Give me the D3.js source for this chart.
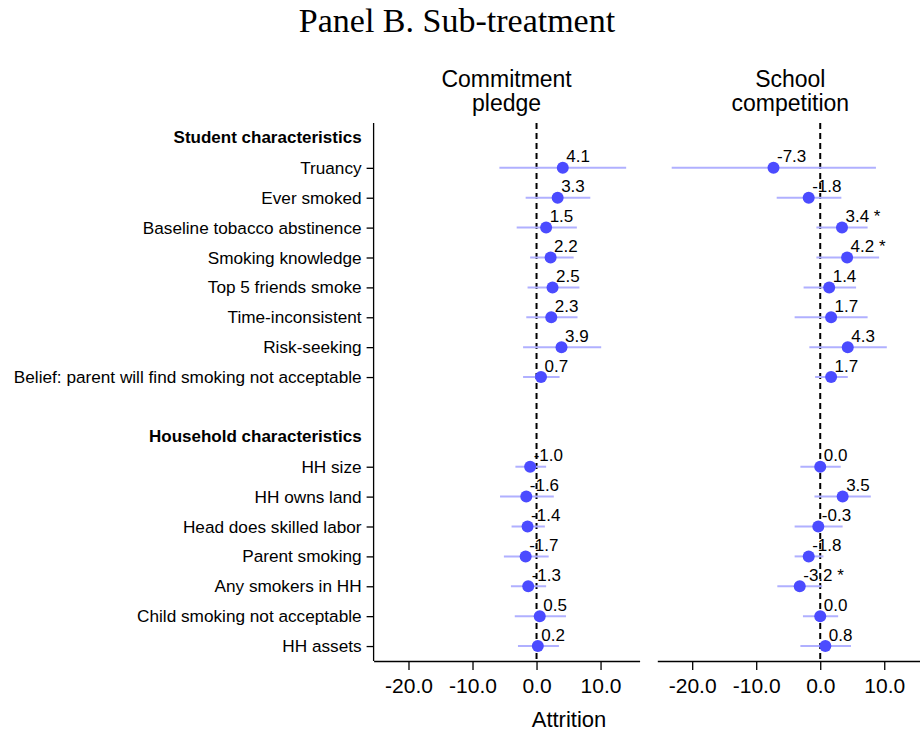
<!DOCTYPE html>
<html>
<head>
<meta charset="utf-8">
<script src="https://cdn.jsdelivr.net/npm/d3@7"></script>
<style>
  body { margin: 0; background: #fff; }
  svg { display: block; font-family: "Liberation Sans", Arial, sans-serif; }
</style>
</head>
<body>
<svg class="chart"></svg>
<script>
// row labels
const studentRows = ["Truancy", "Ever smoked", "Baseline tobacco abstinence", "Smoking knowledge",
  "Top 5 friends smoke", "Time-inconsistent", "Risk-seeking", "Belief: parent will find smoking not acceptable"];
const householdRows = ["HH size", "HH owns land", "Head does skilled labor", "Parent smoking",
  "Any smokers in HH", "Child smoking not acceptable", "HH assets"];
const headers = ["Student characteristics", "Household characteristics"];

// Commitment pledge: estimate, CI low, CI high
const commitEst = [4.1, 3.3, 1.5, 2.2, 2.5, 2.3, 3.9, 0.7, -1.0, -1.6, -1.4, -1.7, -1.3, 0.5, 0.2];
const commitLo  = [-5.8, -1.7, -3.1, -1.0, -1.4, -1.6, -2.1, -2.1, -3.3, -5.7, -3.9, -5.1, -4.0, -3.4, -2.9];
const commitHi  = [14.0, 8.4, 6.3, 5.8, 6.7, 6.4, 10.1, 3.6, 1.5, 2.7, 1.3, 1.9, 1.5, 4.6, 3.5];
const commitStars = ["", "", "", "", "", "", "", "", "", "", "", "", "", "", ""];

// School competition
const schoolEst = [-7.3, -1.8, 3.4, 4.2, 1.4, 1.7, 4.3, 1.7, 0.0, 3.5, -0.3, -1.8, -3.2, 0.0, 0.8];
const schoolLo  = [-23.2, -6.8, -0.6, -0.6, -2.6, -4.0, -1.7, -0.8, -3.1, -0.9, -4.0, -4.0, -6.7, -2.7, -3.1];
const schoolHi  = [8.7, 3.3, 7.4, 9.2, 5.6, 7.4, 10.4, 4.3, 3.2, 7.9, 3.5, 0.5, 0.3, 2.8, 4.8];
const schoolStars = ["", "", "*", "*", "", "", "", "", "", "", "", "", "*", "", ""];

const xTicks = [-20, -10, 0, 10];
const panelTitles = [["Commitment", "pledge"], ["School", "competition"]];

const width = 920, height = 731;
const svg = d3.select(".chart").attr("width", width).attr("height", height);

const dataRows = studentRows.concat(householdRows);
const slots = [headers[0], ...studentRows, "__blank", headers[1], ...householdRows];

const yTop = 123, yBottom = 661;
const y = d3.scalePoint().domain(slots).range([yTop, yBottom]).padding(0.5);
const panelLefts = [373.6, 657.3];
const panelW = 266;

function panelData(est, lo, hi, stars) {
  return dataRows.map((r, i) => ({row: r, est: est[i], lo: lo[i], hi: hi[i], star: stars[i]}));
}
const panels = [
  panelData(commitEst, commitLo, commitHi, commitStars),
  panelData(schoolEst, schoolLo, schoolHi, schoolStars)
];

// title
svg.append("text")
  .attr("x", 457).attr("y", 32)
  .attr("text-anchor", "middle")
  .style("font-family", "'Liberation Serif', 'Times New Roman', serif")
  .style("font-size", "34px")
  .text("Panel B. Sub-treatment");

panels.forEach((data, p) => {
  const x = d3.scaleLinear().domain([-25.45, 16.1]).range([panelLefts[p], panelLefts[p] + panelW]);
  const g = svg.append("g");

  // panel title
  const t = g.append("text")
    .attr("text-anchor", "middle")
    .style("font-size", "23px");
  panelTitles[p].forEach((line, k) => {
    t.append("tspan").attr("x", panelLefts[p] + panelW / 2).attr("y", 87 + k * 24).text(line);
  });

  // x axis
  g.append("g")
    .attr("transform", `translate(0,${yBottom})`)
    .call(d3.axisBottom(x).tickValues(xTicks).tickFormat(d => d.toFixed(1)).tickSize(9).tickSizeOuter(0).tickPadding(8))
    .call(a => a.selectAll("text").style("font-size", "21px").attr("fill", "#000").style("font-family", "inherit"))
    .call(a => a.selectAll("line, path").attr("stroke", "#000").attr("stroke-width", 1.3));

  // zero line
  g.append("line")
    .attr("x1", x(0)).attr("x2", x(0))
    .attr("y1", yTop).attr("y2", yBottom)
    .attr("stroke", "#000").attr("stroke-width", 2)
    .attr("stroke-dasharray", "6,4");

  // CIs
  g.selectAll(".ci").data(data).join("line")
    .attr("class", "ci")
    .attr("x1", d => x(d.lo)).attr("x2", d => x(d.hi))
    .attr("y1", d => y(d.row)).attr("y2", d => y(d.row))
    .attr("stroke", "#b0b0ff").attr("stroke-width", 2);

  // points
  g.selectAll(".pt").data(data).join("circle")
    .attr("class", "pt")
    .attr("cx", d => x(d.est)).attr("cy", d => y(d.row))
    .attr("r", 6)
    .attr("fill", "#4b4bff");

  // value labels
  g.selectAll(".lbl").data(data).join("text")
    .attr("class", "lbl")
    .attr("x", d => x(d.est) + 3.5)
    .attr("y", d => y(d.row) - 5.5)
    .style("font-size", "17px")
    .text(d => d.est.toFixed(1) + (d.star ? " " + d.star : ""));

  if (p === 0) {
    const ya = g.append("g")
      .attr("transform", `translate(${panelLefts[0]},0)`)
      .call(d3.axisLeft(y).tickValues(dataRows).tickSize(7).tickSizeOuter(0).tickPadding(5));
    ya.select(".domain").attr("d", `M0,${yTop}V${yBottom}`).attr("stroke", "#000").attr("stroke-width", 1.3);
    ya.selectAll("line").attr("stroke", "#000").attr("stroke-width", 1.3);
    ya.selectAll("text").style("font-size", "17.2px").attr("fill", "#000").style("font-family", "inherit");

    g.selectAll(".hdr").data(headers).join("text")
      .attr("class", "hdr")
      .attr("x", panelLefts[0] - 12)
      .attr("y", d => y(d))
      .attr("dy", "0.32em")
      .attr("text-anchor", "end")
      .style("font-size", "17px")
      .style("font-weight", "bold")
      .text(d => d);
  }
});

// x axis title
svg.append("text")
  .attr("x", 569).attr("y", 727)
  .attr("text-anchor", "middle")
  .style("font-size", "22px")
  .text("Attrition");
</script>
</body>
</html>
